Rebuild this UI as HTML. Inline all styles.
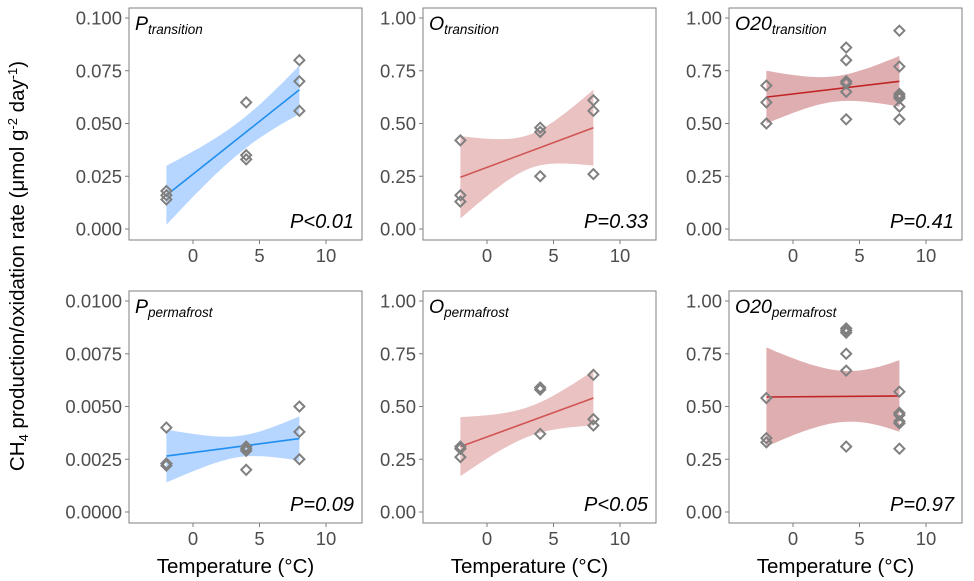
<!DOCTYPE html>
<html><head><meta charset="utf-8"><style>
body{margin:0;background:#fff}
svg{display:block;font-family:"Liberation Sans",Arial,sans-serif}
</style></head><body>
<svg id="s" width="974" height="581" viewBox="0 0 974 581" xmlns="http://www.w3.org/2000/svg"></svg>
<script>
let out="";
const cols=[129,423,729], W=233, rows=[8,291], H=232;
const P=[
 {t:"P",s:"transition",max:0.1,lab:["0.000","0.025","0.050","0.075","0.100"],pts:{"-2":[0.018,0.016,0.014],"4":[0.060,0.035,0.033],"8":[0.080,0.070,0.056]},l:[0.016,0.066],h:[0.014,0.0115,0.0075],lc:"#1f8ef0",bc:"#b6d6ff",p:"P<0.01"},
 {t:"O",s:"transition",max:1,lab:["0.00","0.25","0.50","0.75","1.00"],pts:{"-2":[0.42,0.16,0.13],"4":[0.48,0.46,0.25],"8":[0.61,0.56,0.26]},l:[0.245,0.48],h:[0.195,0.18,0.08],lc:"#d05555",bc:"#eac2c2",p:"P=0.33"},
 {t:"O20",s:"transition",max:1,lab:["0.00","0.25","0.50","0.75","1.00"],pts:{"-2":[0.68,0.60,0.50],"4":[0.86,0.80,0.70,0.69,0.65,0.52],"8":[0.94,0.77,0.64,0.63,0.62,0.58,0.52]},l:[0.625,0.70],h:[0.125,0.12,0.06],lc:"#c02424",bc:"#dfaeb1",p:"P=0.41"},
 {t:"P",s:"permafrost",max:0.01,lab:["0.0000","0.0025","0.0050","0.0075","0.0100"],pts:{"-2":[0.0040,0.0023,0.0022],"4":[0.0031,0.0030,0.0029,0.0020],"8":[0.0050,0.0038,0.0025]},l:[0.00265,0.00348],h:[0.00125,0.00105,0.0005],lc:"#1f8ef0",bc:"#b6d6ff",p:"P=0.09"},
 {t:"O",s:"permafrost",max:1,lab:["0.00","0.25","0.50","0.75","1.00"],pts:{"-2":[0.31,0.30,0.26],"4":[0.59,0.58,0.37],"8":[0.65,0.44,0.41]},l:[0.31,0.54],h:[0.14,0.13,0.07],lc:"#d05555",bc:"#eac2c2",p:"P<0.05"},
 {t:"O20",s:"permafrost",max:1,lab:["0.00","0.25","0.50","0.75","1.00"],pts:{"-2":[0.54,0.35,0.33],"4":[0.87,0.86,0.85,0.75,0.67,0.31],"8":[0.57,0.47,0.46,0.43,0.42,0.30]},l:[0.545,0.55],h:[0.235,0.17,0.12],lc:"#c02424",bc:"#dfaeb1",p:"P=0.97"}
];
P.forEach((d,i)=>{
 const x0=cols[i%3], y0=rows[Math.floor(i/3)];
 const X=t=>x0+64+t*13.3, Y=v=>y0+221-v/d.max*211;
 const u=d.h[0]**2-d.h[2]**2, v=d.h[1]**2-d.h[2]**2, r=Math.sqrt(u/v);
 const xm=(8*r-2)/(1+r), b=u/((xm+2)**2);
 const L=t=>d.l[0]+(d.l[1]-d.l[0])*(t+2)/10, HW=t=>Math.sqrt(d.h[2]**2+b*(t-xm)**2);
 let up=[],lo=[];
 for(let k=0;k<=40;k++){const t=-2+k*10/40;up.push(X(t).toFixed(1)+","+Y(L(t)+HW(t)).toFixed(1));lo.unshift(X(t).toFixed(1)+","+Y(L(t)-HW(t)).toFixed(1));}
 out+=`<polygon points="${up.join(" ")} ${lo.join(" ")}" fill="${d.bc}"/>`;
 out+=`<line x1="${X(-2)}" y1="${Y(d.l[0])}" x2="${X(8)}" y2="${Y(d.l[1])}" stroke="${d.lc}" stroke-width="1.6"/>`;
 for(const t in d.pts){d.pts[t].forEach(p=>{const cx=X(+t),cy=Y(p);out+=`<polygon points="${cx},${cy-5} ${cx+5},${cy} ${cx},${cy+5} ${cx-5},${cy}" fill="none" stroke="#808080" stroke-width="2"/>`;});}
 out+=`<rect x="${x0}" y="${y0}" width="${W}" height="${H}" fill="none" stroke="#7f7f7f" stroke-width="1"/>`;
 d.lab.forEach((s,k)=>{const y=Y(d.max*k/4);out+=`<line x1="${x0-4}" y1="${y}" x2="${x0}" y2="${y}" stroke="#7f7f7f"/><text x="${x0-7}" y="${y+6.5}" text-anchor="end" font-size="18.5" fill="#4d4d4d">${s}</text>`;});
 [0,5,10].forEach(t=>{const x=X(t);out+=`<line x1="${x}" y1="${y0+H}" x2="${x}" y2="${y0+H+4}" stroke="#7f7f7f"/><text x="${x}" y="${y0+H+22}" text-anchor="middle" font-size="18.5" fill="#4d4d4d">${t}</text>`;});
 out+=`<text x="${x0+6}" y="${y0+22}" font-size="19.5" font-style="italic" fill="#000">${d.t}<tspan font-size="13.5" dy="4">${d.s}</tspan></text>`;
 out+=`<text x="${x0+W-8}" y="${y0+H-12}" text-anchor="end" font-size="20" font-style="italic" fill="#000">${d.p}</text>`;
 if(i>=3) out+=`<text x="${x0+W/2-10}" y="573" text-anchor="middle" font-size="20.5" fill="#000">Temperature (°C)</text>`;
});
out+=`<text transform="translate(24,266) rotate(-90)" text-anchor="middle" font-size="20.5" fill="#000">CH<tspan font-size="13" dy="4">4</tspan><tspan dy="-4"> production/oxidation rate (μmol g</tspan><tspan font-size="13" dy="-7">-2</tspan><tspan dy="7"> day</tspan><tspan font-size="13" dy="-7">-1</tspan><tspan dy="7">)</tspan></text>`;
document.getElementById("s").innerHTML=out;
</script>
</body></html>
